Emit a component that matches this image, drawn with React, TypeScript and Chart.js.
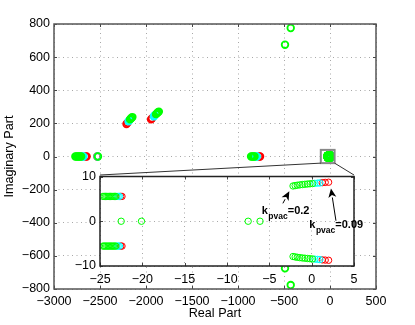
import React, { useEffect, useRef } from "react";
import { Chart, registerables } from "chart.js";
Chart.register(...registerables);

const FONT = '"Liberation Sans", Arial, Helvetica, sans-serif';

// ---- tick labels ----
const xTicksMain = [-3000, -2500, -2000, -1500, -1000, -500, 0, 500];
const yTicksMain = [-800, -600, -400, -200, 0, 200, 400, 600, 800];
const xTicksInset = [-25, -20, -15, -10, -5, 0, 5];
const yTicksInset = [-10, 0, 10];

// ---- poles (real / imaginary parts) ----
// red: k_pvac near 0.09
const redRe = [-2645, -2656, -2530, -2212, -2202, -2212, -2202, -1945, -1936, -1945, -1936, -760, -770,
  -22.4, -22.55, -22.4, -22.55, 2.0, 1.6, 1.25, 2.0, 1.6, 1.25];
const redIm = [0, 0, 0, 196, 203, -196, -203, 224, 230, -224, -230, 0, 0,
  5.55, 5.55, -5.55, -5.55, 8.72, 8.68, 8.63, -8.72, -8.68, -8.63];

// cyan: intermediate k_pvac
const cyanRe = [-2680, -2692, -2527, -2190, -2182, -2190, -2182, -1915, -1905, -1915, -1905, -795, -805,
  -22.7, -22.85, -23.0, -22.7, -22.85, -23.0, 0.97, 0.7, 0.38, 0.97, 0.7, 0.38];
const cyanIm = [0, 0, 0, 212, 218, -212, -218, 242, 249, -242, -249, 0, 0,
  5.55, 5.55, 5.55, -5.55, -5.55, -5.55, 8.56, 8.52, 8.47, -8.56, -8.52, -8.47];

// green: k_pvac up to 0.2
const greenRe = [-2705, -2718, -2730, -2742, -2755, -2768, -2522,
  -2174, -2165, -2156, -2148, -2174, -2165, -2156, -2148,
  -1890, -1880, -1870, -1860, -1890, -1880, -1870, -1860,
  -820, -832, -845, -858,
  -489, -489, -427, -427,
  -23.15, -23.3, -23.45, -23.6, -23.75, -23.9, -24.05, -24.2, -24.35, -24.5, -24.65,
  -23.15, -23.3, -23.45, -23.6, -23.75, -23.9, -24.05, -24.2, -24.35, -24.5, -24.65,
  -22.5, -20.1, -7.5, -6.1,
  0.1, -0.2, -0.5, -0.8, -1.1, -1.4, -1.7, -1.95, -2.2,
  0.1, -0.2, -0.5, -0.8, -1.1, -1.4, -1.7, -1.95, -2.2];
const greenIm = [0, 0, 0, 0, 0, 0, 0,
  224, 229, 234, 238, -224, -229, -234, -238,
  256, 262, 267, 271, -256, -262, -267, -271,
  0, 0, 0, 0,
  675, -675, 776, -776,
  5.55, 5.55, 5.55, 5.55, 5.55, 5.55, 5.55, 5.55, 5.55, 5.55, 5.55,
  -5.55, -5.55, -5.55, -5.55, -5.55, -5.55, -5.55, -5.55, -5.55, -5.55, -5.55,
  0, 0, 0, 0,
  8.42, 8.37, 8.32, 8.26, 8.2, 8.13, 8.05, 7.97, 7.88,
  -8.42, -8.37, -8.32, -8.26, -8.2, -8.13, -8.05, -7.97, -7.88];

// zoom window (data units of main axes)
const zoomRe = [-100, 50];
const zoomIm = [-40, 40];

// annotations (inset data units)
const ann1 = { sub: "pvac", val: "=0.2", re: -5.9, im: 1.58, tail: [-3.4, 4.0], head: [-2.64, 6.7] };
const ann2 = { sub: "pvac", val: "=0.09", re: -0.28, im: -1.58, tail: [2.87, 0.11], head: [2.28, 7.3] };

// ---- layout ----
const W = 415, H = 325;
const INSET = { left: 70, top: 165, width: 305, height: 125, axisW: 30, axisH: 24, padTop: 10, padRight: 21 };

const minusFmt = (v: any) => String(v).replace("-", "\u2212");
const pts = (re: number[], im: number[]) => re.map((r, i) => ({ x: r, y: im[i] }));
const inRange = (p: { x: number; y: number }) => p.x >= -25 && p.x <= 5 && p.y >= -10 && p.y <= 10;

function ds(data: any[], color: string, r: number, bw: number) {
  return {
    data, borderColor: color, backgroundColor: "rgba(0,0,0,0)",
    pointRadius: r, pointBorderWidth: bw, pointStyle: "circle", showLine: false,
  };
}

function drawTicksFrame(chart: any, frameColor: string, frameW: number) {
  const { ctx, chartArea: a, scales } = chart;
  ctx.save();
  ctx.strokeStyle = "#444";
  ctx.lineWidth = 1;
  const tl = 3;
  scales.x.ticks.forEach((t: any) => {
    const px = Math.round(scales.x.getPixelForValue(t.value)) + 0.5;
    ctx.beginPath();
    ctx.moveTo(px, a.bottom); ctx.lineTo(px, a.bottom - tl);
    ctx.moveTo(px, a.top); ctx.lineTo(px, a.top + tl);
    ctx.stroke();
  });
  scales.y.ticks.forEach((t: any) => {
    const py = Math.round(scales.y.getPixelForValue(t.value)) + 0.5;
    ctx.beginPath();
    ctx.moveTo(a.left, py); ctx.lineTo(a.left + tl, py);
    ctx.moveTo(a.right, py); ctx.lineTo(a.right - tl, py);
    ctx.stroke();
  });
  ctx.strokeStyle = frameColor;
  ctx.lineWidth = frameW;
  ctx.strokeRect(a.left, a.top, a.right - a.left, a.bottom - a.top);
  ctx.restore();
}

const mainPlugin = {
  id: "mainDecor",
  afterDraw(chart: any) {
    drawTicksFrame(chart, "#555", 1.5);
    const { ctx, scales } = chart;
    const x0 = scales.x.getPixelForValue(zoomRe[0]);
    const x1 = scales.x.getPixelForValue(zoomRe[1]);
    const y0 = scales.y.getPixelForValue(zoomIm[1]);
    const y1 = scales.y.getPixelForValue(zoomIm[0]);
    ctx.save();
    ctx.strokeStyle = "#888";
    ctx.lineWidth = 2;
    ctx.strokeRect(x0, y0, x1 - x0, y1 - y0);
    const il = INSET.left + INSET.axisW;
    const ir = INSET.left + INSET.width - INSET.padRight;
    const it = INSET.top + INSET.padTop;
    ctx.strokeStyle = "#333";
    ctx.lineWidth = 1;
    ctx.beginPath();
    ctx.moveTo(x0, y1); ctx.lineTo(il, it);
    ctx.moveTo(x1, y1); ctx.lineTo(ir, it);
    ctx.stroke();
    ctx.restore();
  },
};

function drawArrow(ctx: any, sx: number, sy: number, hx: number, hy: number) {
  const ang = Math.atan2(hy - sy, hx - sx);
  const L = 9, hw = 4;
  const bx = hx - L * Math.cos(ang), by = hy - L * Math.sin(ang);
  ctx.beginPath();
  ctx.moveTo(sx, sy); ctx.lineTo(bx, by);
  ctx.stroke();
  ctx.beginPath();
  ctx.moveTo(hx, hy);
  ctx.lineTo(bx + hw * Math.sin(ang), by - hw * Math.cos(ang));
  ctx.lineTo(hx - (L - 2.5) * Math.cos(ang), hy - (L - 2.5) * Math.sin(ang));
  ctx.lineTo(bx - hw * Math.sin(ang), by + hw * Math.cos(ang));
  ctx.closePath();
  ctx.fill();
}

function drawAnn(chart: any, a: any) {
  const { ctx, scales } = chart;
  const sx = scales.x, sy = scales.y;
  ctx.save();
  ctx.fillStyle = "#000";
  ctx.strokeStyle = "#000";
  ctx.lineWidth = 1;
  drawArrow(ctx, sx.getPixelForValue(a.tail[0]), sy.getPixelForValue(a.tail[1]),
    sx.getPixelForValue(a.head[0]), sy.getPixelForValue(a.head[1]));
  let x = sx.getPixelForValue(a.re);
  const y = sy.getPixelForValue(a.im);
  ctx.textBaseline = "alphabetic";
  ctx.textAlign = "left";
  ctx.font = `bold 11px ${FONT}`;
  ctx.fillText("k", x, y);
  x += ctx.measureText("k").width + 0.5;
  ctx.font = `bold 8.5px ${FONT}`;
  ctx.fillText(a.sub, x, y + 5);
  x += ctx.measureText(a.sub).width;
  ctx.font = `bold 11px ${FONT}`;
  ctx.fillText(a.val, x, y);
  ctx.restore();
}

const insetPlugin = {
  id: "insetDecor",
  beforeDraw(chart: any) {
    const { ctx, chartArea: a } = chart;
    ctx.save();
    ctx.fillStyle = "#fff";
    ctx.fillRect(a.left, a.top, a.right - a.left, a.bottom - a.top);
    ctx.restore();
  },
  afterDraw(chart: any) {
    drawTicksFrame(chart, "#222", 1.5);
    drawAnn(chart, ann1);
    drawAnn(chart, ann2);
  },
};

function axis(min: number, max: number, ticks: number[], fit: (s: any) => void, pad: number, title?: any) {
  return {
    type: "linear" as const,
    min, max,
    afterBuildTicks: (s: any) => { s.ticks = ticks.map((v) => ({ value: v })); },
    afterFit: fit,
    grid: { color: "#a8a8a8", lineWidth: 1, drawTicks: false },
    border: { display: false, dash: [1, 3.5] },
    ticks: {
      color: "#000", font: { family: FONT, size: 12.5 }, padding: pad,
      maxRotation: 0, autoSkip: false, callback: minusFmt,
    },
    title: title || { display: false },
  };
}

export default function App() {
  const mainRef = useRef<HTMLCanvasElement>(null);
  const insetRef = useRef<HTMLCanvasElement>(null);

  useEffect(() => {
    const red = pts(redRe, redIm), cyan = pts(cyanRe, cyanIm), green = pts(greenRe, greenIm);
    const main = new Chart(mainRef.current!, {
      type: "scatter",
      data: { datasets: [ds(green, "#00ff00", 3.3, 1.8), ds(cyan, "#00ffff", 3.3, 1.8), ds(red, "#ff0000", 3.3, 1.8)] as any },
      options: {
        responsive: false, animation: false, devicePixelRatio: 1, events: [],
        layout: { padding: { top: 24, right: 39, left: 0, bottom: 0 } },
        plugins: { legend: { display: false }, tooltip: { enabled: false } },
        scales: {
          x: axis(-3000, 500, xTicksMain, (s: any) => { s.height = 36; }, 5,
            { display: true, text: "Real Part", color: "#000", font: { family: FONT, size: 12.6 }, padding: { top: 0, bottom: 4 } }),
          y: axis(-800, 800, yTicksMain, (s: any) => { s.width = 54; }, 4,
            { display: true, text: "Imaginary Part", color: "#000", font: { family: FONT, size: 12.6 }, padding: { top: 2, bottom: 0 } }),
        },
      } as any,
      plugins: [mainPlugin],
    });
    const inset = new Chart(insetRef.current!, {
      type: "scatter",
      data: {
        datasets: [
          ds(green.filter(inRange), "#00ff00", 3.2, 1),
          ds(cyan.filter(inRange), "#00ffff", 3.2, 1),
          ds(red.filter(inRange), "#ff0000", 3.2, 1),
        ] as any,
      },
      options: {
        responsive: false, animation: false, devicePixelRatio: 1, events: [],
        layout: { padding: { top: INSET.padTop, right: INSET.padRight, left: 0, bottom: 0 } },
        plugins: { legend: { display: false }, tooltip: { enabled: false } },
        scales: {
          x: axis(-25, 5, xTicksInset, (s: any) => { s.height = INSET.axisH; }, 6),
          y: axis(-10, 10, yTicksInset, (s: any) => { s.width = INSET.axisW; }, 4),
        },
      } as any,
      plugins: [insetPlugin],
    });
    return () => { main.destroy(); inset.destroy(); };
  }, []);

  return (
    <div style={{ position: "absolute", left: 0, top: 0, width: W, height: H, background: "#fff" }}>
      <canvas ref={mainRef} width={W} height={H} style={{ position: "absolute", left: 0, top: 0 }} />
      <canvas ref={insetRef} width={INSET.width} height={INSET.height}
        style={{ position: "absolute", left: INSET.left, top: INSET.top }} />
    </div>
  );
}
